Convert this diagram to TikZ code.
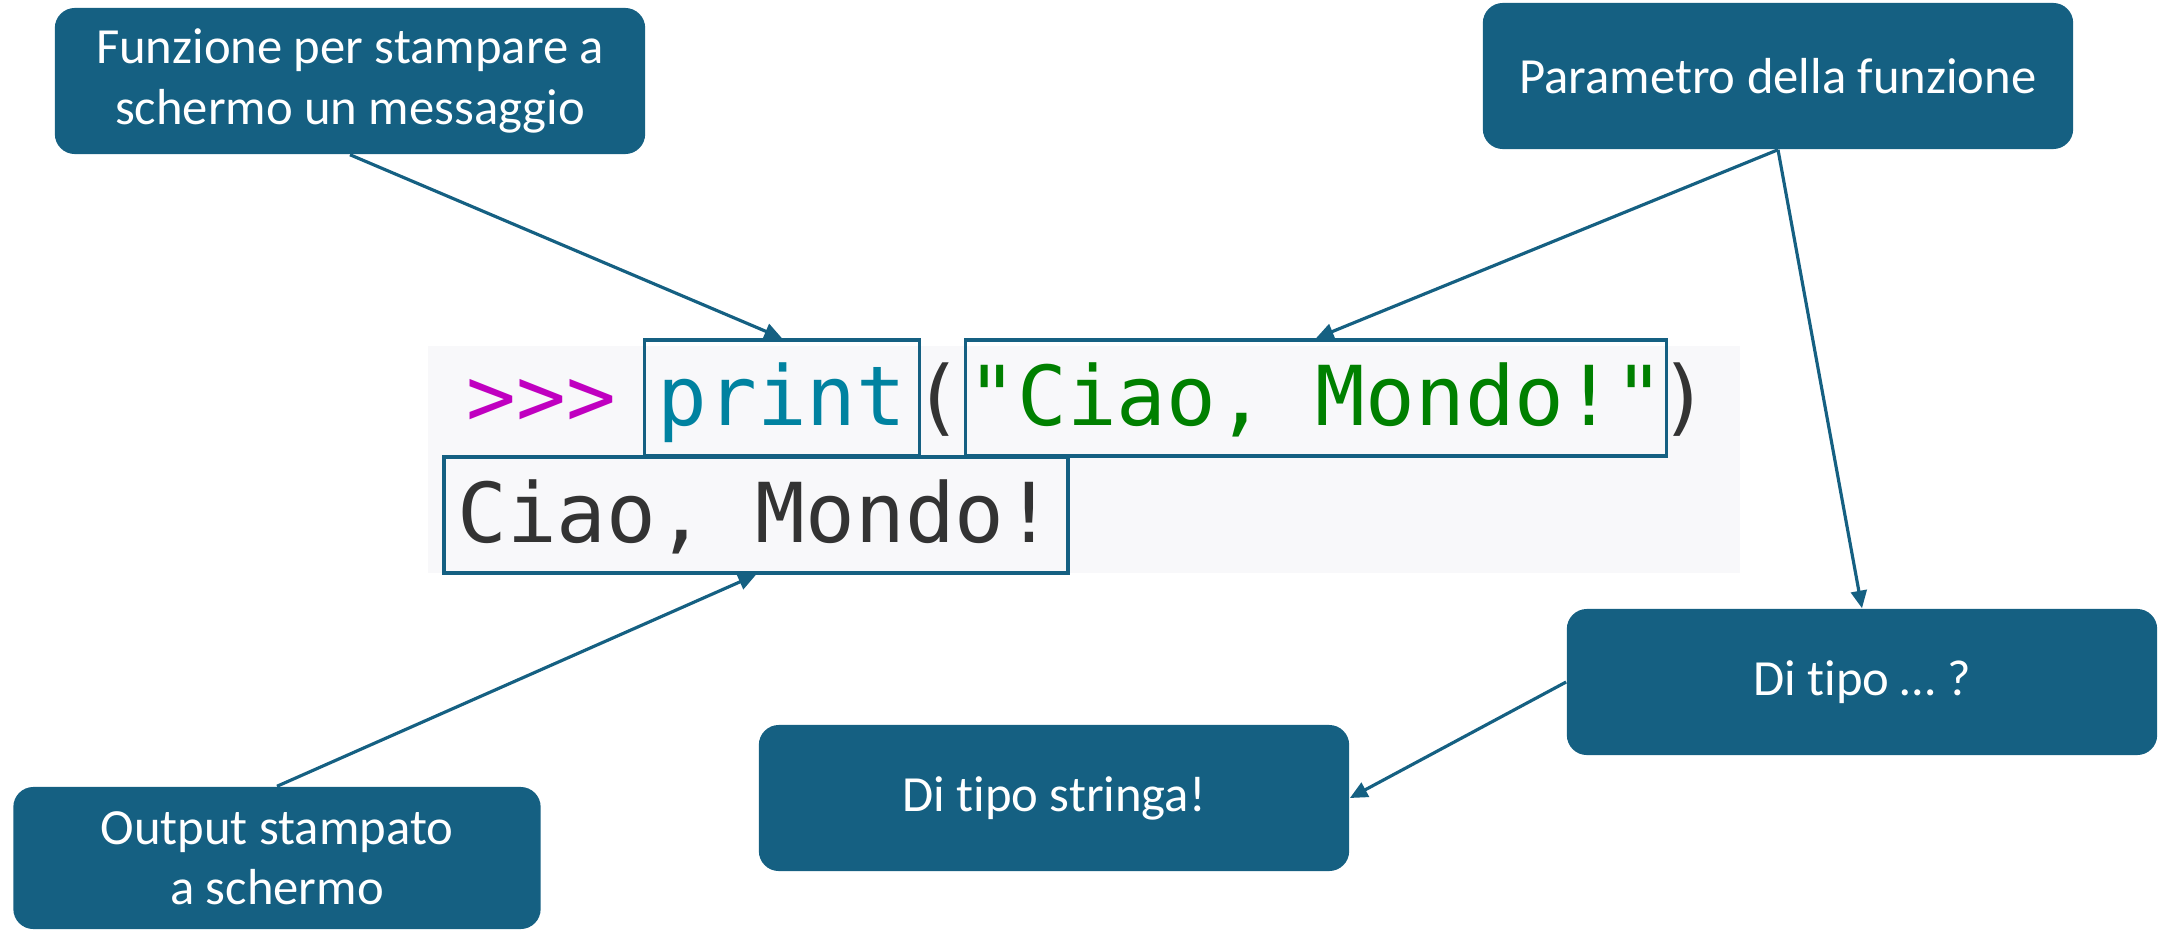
\documentclass[tikz,border=0pt]{standalone}
\usepackage{fontspec}
\usetikzlibrary{arrows.meta, positioning}
\newfontfamily\boxfont[Ligatures=NoCommon]{Carlito}
\setmonofont{DejaVu Sans Mono}
\definecolor{boxblue}{HTML}{156082}
\definecolor{codebg}{HTML}{F8F8FA}
\definecolor{promptcol}{HTML}{C000C0}
\definecolor{funccol}{HTML}{0082A0}
\definecolor{strcol}{HTML}{008000}
\definecolor{plaincol}{HTML}{333333}

\begin{document}
\begin{tikzpicture}[x=0.01cm, y=-0.01cm]
\useasboundingbox (0,0) rectangle (2160,930);
% grey strip behind the code
\fill[codebg] (428,346) rectangle (1740,573);

\begin{scope}[every node/.style={shape=rectangle, rounded corners=0.2cm,
    fill=boxblue, text=white, align=center,
    minimum width=5.9cm, minimum height=1.46cm,
    font=\boxfont\fontsize{14.4pt}{17.2pt}\selectfont}]
    \node (func) at (350,81) {Funzione per stampare a\\schermo un messaggio};
    \node (param) at (1778,76) {Parametro della funzione};
    \node (tipo) at (1862,682) {Di tipo … ?};
    \node (stringa) at (1054,798) {Di tipo stringa!};
    \node[minimum width=5.27cm, minimum height=1.42cm] (output) at (277,858) {Output stampato\\a schermo};
\end{scope}

\begin{scope}[every node/.style={inner sep=0pt,
    font=\ttfamily\fontsize{23.5pt}{28pt}\selectfont},
    codebox/.style={draw=boxblue, line width=1pt, inner ysep=0.1cm,
    text height=0.75cm, text depth=0.21cm, anchor=base}]
    \node[text=promptcol, anchor=base west] (prompt) at (466,425) {>>>};
    \node[codebox, text=funccol, minimum width=2.75cm] (print) at (782,425) {print};
    \node[text=plaincol, anchor=base west] (lpar) at (913,425) {(};
    \node[codebox, text=strcol, minimum width=7.01cm] (arg) at (1316,425) {"Ciao, Mondo!"};
    \node[text=plaincol, anchor=base west] (rpar) at (1659,425) {)};
    \node[codebox, text=plaincol, minimum width=6.24cm] (result) at (756,542) {Ciao, Mondo!};
\end{scope}

\begin{scope}[every edge/.style={draw=boxblue, line width=0.9pt,
    -{Triangle[length=5pt,width=4.5pt]}}]
    \path (func.south) edge (print.north);
    \path (param.south) edge (arg.north);
    \path (param.south) edge (tipo.north);
    \path (tipo.west) edge (stringa.east);
    \path (output.north) edge (result.south);
\end{scope}
\end{tikzpicture}
\end{document}
